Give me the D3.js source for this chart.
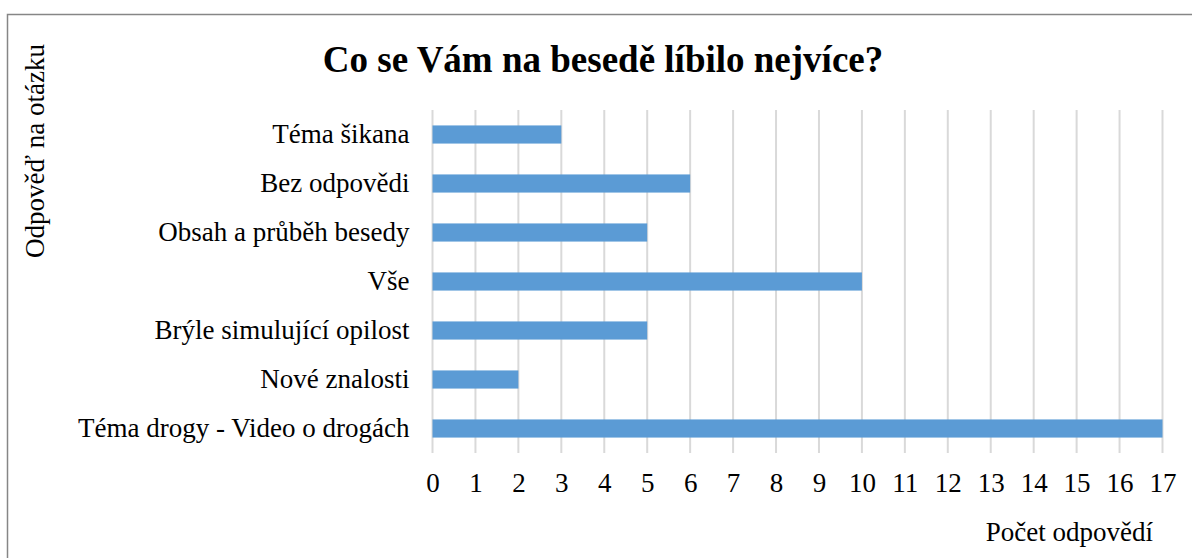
<!DOCTYPE html>
<html><head><meta charset="utf-8">
<script src="https://cdn.jsdelivr.net/npm/d3@7"></script>
<style>body{margin:0;background:#fff}svg{display:block}</style>
</head><body>
<script>
const categories = ["Téma šikana","Bez odpovědi","Obsah a průběh besedy","Vše","Brýle simulující opilost","Nové znalosti","Téma drogy - Video o drogách"];
const values = [3,6,5,10,5,2,17];
const xTicks = d3.range(0,18);
const title = "Co se Vám na besedě líbilo nejvíce?";
const yTitle = "Odpověď na otázku";
const xTitle = "Počet odpovědí";

const W=1192,H=558;
const svg=d3.select("body").append("svg").attr("width",W).attr("height",H);
const font="Liberation Serif";
svg.append("rect").attr("x",7.5).attr("y",14.5).attr("width",W+10).attr("height",H+10)
  .attr("fill","#fff").attr("stroke","#868686").attr("stroke-width",1.5);

const x=d3.scaleLinear().domain([0,17]).range([432.5,1162.5]);
const y=d3.scaleBand().domain(categories).range([110,453]).paddingInner(0.63).paddingOuter(0.315);

const g=svg.append("g");
g.selectAll("line.grid").data(xTicks).join("line").attr("class","grid")
  .attr("x1",d=>x(d)).attr("x2",d=>x(d)).attr("y1",110).attr("y2",453)
  .attr("stroke","#d9d9d9").attr("stroke-width",2);

g.selectAll("rect.bar").data(categories).join("rect").attr("class","bar")
  .attr("x",x(0)).attr("y",d=>y(d)).attr("height",y.bandwidth())
  .attr("width",(d,i)=>x(values[i])-x(0)).attr("fill","#5b9bd5");

const xa=svg.append("g").attr("transform","translate(0,453)")
  .call(d3.axisBottom(x).tickValues(xTicks).tickSize(0).tickPadding(20).tickFormat(d3.format("d")));
xa.select(".domain").remove();
xa.selectAll("text").attr("font-family",font).attr("font-size",27).attr("fill","#000");

const ya=svg.append("g").attr("transform","translate("+x(0)+",0)")
  .call(d3.axisLeft(y).tickSize(0).tickPadding(23));
ya.select(".domain").remove();
ya.selectAll("text").attr("font-family",font).attr("font-size",27).attr("fill","#000");

svg.append("text").attr("x",603).attr("y",72).attr("text-anchor","middle")
  .attr("font-family",font).attr("font-weight","bold").attr("font-size",37).text(title);
svg.append("text").attr("transform","translate(44,151) rotate(-90)").attr("text-anchor","middle")
  .attr("font-family",font).attr("font-size",27).text(yTitle);
svg.append("text").attr("x",1153).attr("y",541).attr("text-anchor","end")
  .attr("font-family",font).attr("font-size",27).text(xTitle);
</script>
</body></html>
